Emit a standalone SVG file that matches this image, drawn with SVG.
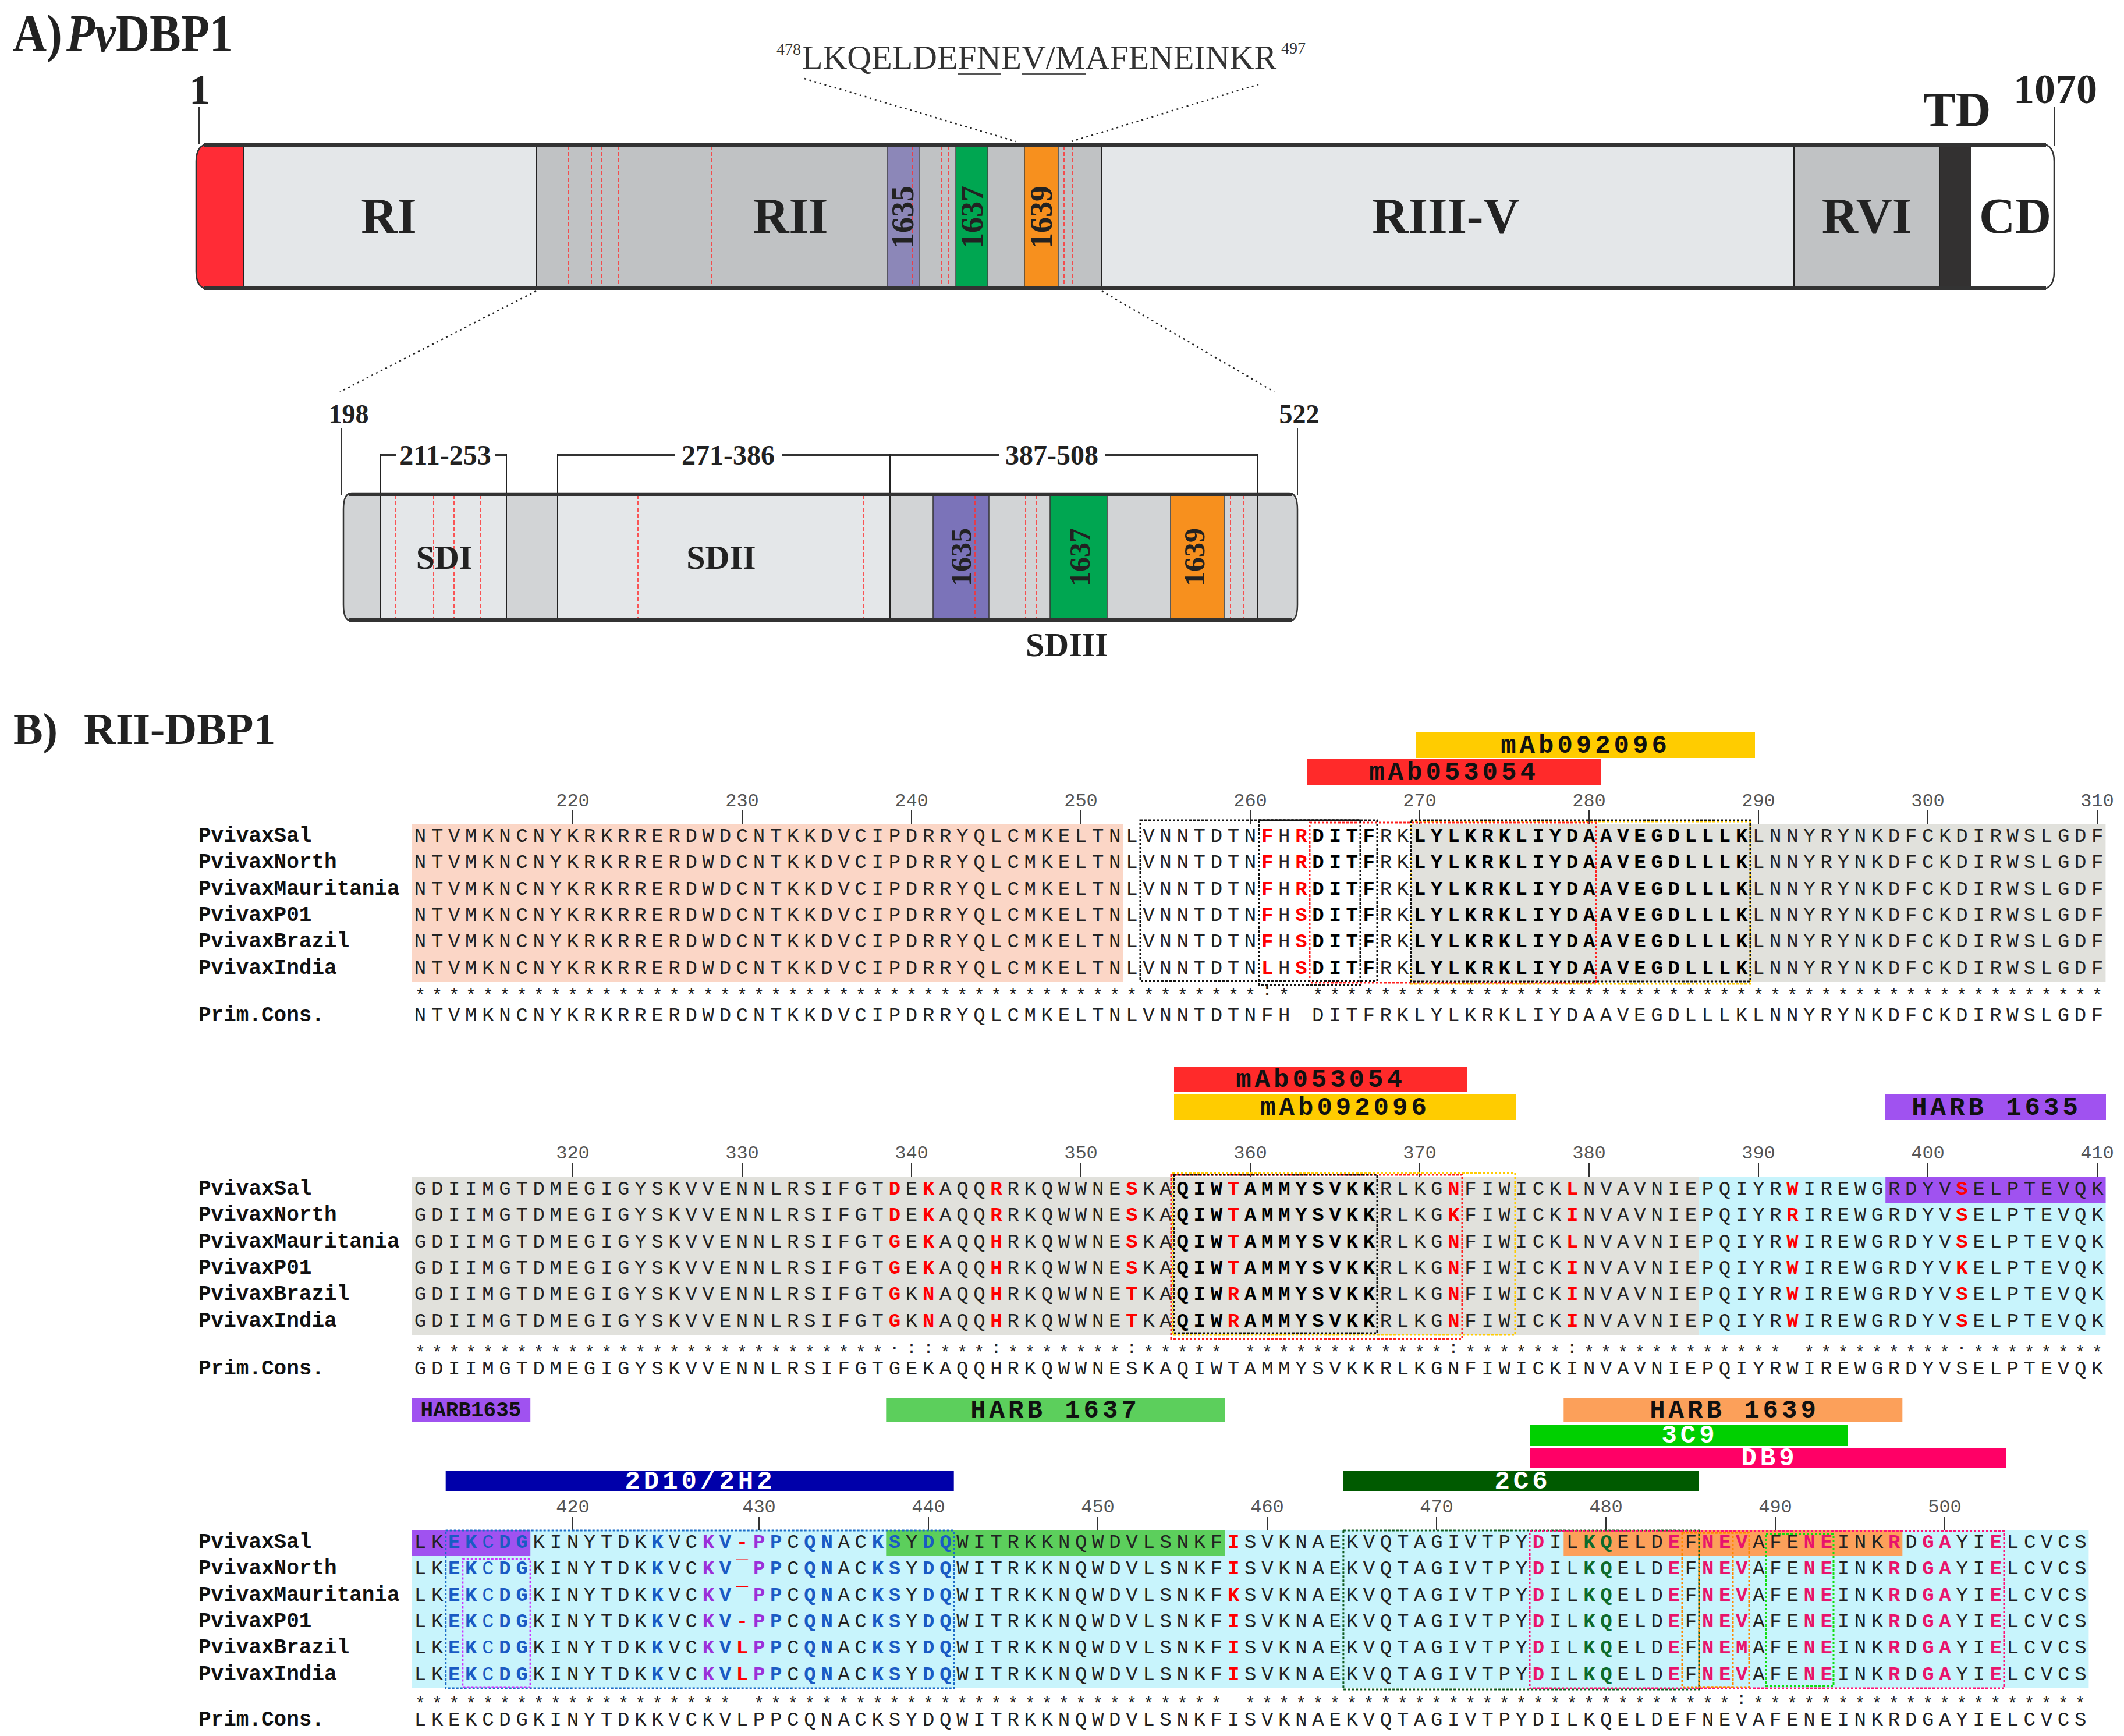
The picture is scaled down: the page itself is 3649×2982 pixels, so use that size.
<svg xmlns="http://www.w3.org/2000/svg" width="3649" height="2982" viewBox="0 0 3649 2982">
<style>
.ser{font-family:"Liberation Serif","Times New Roman",serif;font-weight:bold;fill:#222}
.pep{font-family:"Liberation Serif","Times New Roman",serif;fill:#333}
.seq{font-family:"Liberation Mono","Courier New",monospace;font-size:34px;letter-spacing:8.7px;fill:#222}
.st{font-family:"Liberation Mono","Courier New",monospace;font-size:30px;letter-spacing:11.1px;fill:#222}
.nm{font-family:"Liberation Mono","Courier New",monospace;font-size:36px;font-weight:bold;fill:#111}
.tk{font-family:"Liberation Mono","Courier New",monospace;font-size:32px;fill:#555;text-anchor:middle}
.bt{font-family:"Liberation Mono","Courier New",monospace;font-size:44px;font-weight:bold;letter-spacing:6px;text-anchor:middle;fill:#111}
.bts{font-family:"Liberation Mono","Courier New",monospace;font-size:36px;font-weight:bold;text-anchor:middle;fill:#111}
.wt{fill:#fff}
.B{font-weight:bold;fill:#000}
.R{font-weight:bold;fill:#f00}
.U{font-weight:bold;fill:#1a5bc4}
.u{fill:#1a5bc4}
.P{font-weight:bold;fill:#9b30d9}
.K{font-weight:bold;fill:#e8146c}
.G{font-weight:bold;fill:#0e6b2c}
.rd{stroke:#ff3030;stroke-width:1.6;stroke-dasharray:7 4;fill:none}
.dot{stroke:#222;stroke-width:2.5;stroke-dasharray:3 6;fill:none}
.tick{stroke:#333;stroke-width:2}
.sep{stroke:#222;stroke-width:2}
.brk{stroke:#333;stroke-width:4}
.bx{fill:none;stroke-width:3;stroke-dasharray:4 3}
.edge{fill:none;stroke:#333;stroke-width:2.5}
.thick{stroke:#333;stroke-width:6}
</style>
<defs>
<clipPath id="mainClip"><path d="M361,247 H3505 Q3529,247 3529,277 V467 Q3529,497 3505,497 H361 Q337,497 337,467 V277 Q337,247 361,247 Z"/></clipPath>
<clipPath id="subClip"><path d="M604,847 H2215 Q2229,847 2229,875 V1039 Q2229,1067 2215,1067 H604 Q590,1067 590,1039 V875 Q590,847 604,847 Z"/></clipPath>
</defs>
<rect width="3649" height="2982" fill="#fff"/>

<!-- ===== Part A ===== -->
<text class="ser" x="22" y="88" font-size="90" textLength="378" lengthAdjust="spacingAndGlyphs">A)<tspan font-style="italic" dx="8">Pv</tspan>DBP1</text>

<g id="mainBar">
<g clip-path="url(#mainClip)">
<rect x="337" y="247" width="82" height="250" fill="#ff2c36"/>
<rect x="419" y="247" width="502" height="250" fill="#e4e7e9"/>
<rect x="921" y="247" width="972" height="250" fill="#c0c2c4"/>
<rect x="1893" y="247" width="1189" height="250" fill="#e4e7e9"/>
<rect x="3082" y="247" width="250" height="250" fill="#c0c2c4"/>
<rect x="3332" y="247" width="54" height="250" fill="#333131"/>
<rect x="3386" y="247" width="143" height="250" fill="#ffffff"/>
</g>
<g id="main1635"><rect x="1524" y="250" width="55" height="244" fill="#8c87b8" stroke="#444" stroke-width="1.5"/></g>
<g id="main1637"><rect x="1642" y="250" width="55" height="244" fill="#00a651" stroke="#444" stroke-width="1.5"/></g>
<g id="main1639"><rect x="1760" y="250" width="58" height="244" fill="#f7901e" stroke="#444" stroke-width="1.5"/></g>
<g>
<line class="rd" x1="976" y1="250" x2="976" y2="494"/>
<line class="rd" x1="1016" y1="250" x2="1016" y2="494"/>
<line class="rd" x1="1034" y1="250" x2="1034" y2="494"/>
<line class="rd" x1="1062" y1="250" x2="1062" y2="494"/>
<line class="rd" x1="1222" y1="250" x2="1222" y2="494"/>
<line class="rd" x1="1567" y1="250" x2="1567" y2="494"/>
<line class="rd" x1="1618" y1="250" x2="1618" y2="494"/>
<line class="rd" x1="1630" y1="250" x2="1630" y2="494"/>
<line class="rd" x1="1828" y1="250" x2="1828" y2="494"/>
<line class="rd" x1="1842" y1="250" x2="1842" y2="494"/>
</g>
<line class="sep" x1="419" y1="247" x2="419" y2="497"/>
<line class="sep" x1="921" y1="247" x2="921" y2="497"/>
<line class="sep" x1="1893" y1="247" x2="1893" y2="497"/>
<line class="sep" x1="3082" y1="247" x2="3082" y2="497"/>
<line class="sep" x1="3332" y1="247" x2="3332" y2="497"/>
<path class="edge" d="M361,247 H3505 Q3529,247 3529,277 V467 Q3529,497 3505,497 H361 Q337,497 337,467 V277 Q337,247 361,247 Z"/>
<line class="thick" x1="350" y1="249" x2="3515" y2="249"/>
<line class="thick" x1="350" y1="495" x2="3515" y2="495"/>
<text class="ser" x="668" y="400" font-size="86" text-anchor="middle">RI</text>
<text class="ser" x="1358" y="400" font-size="86" text-anchor="middle">RII</text>
<text class="ser" x="2484" y="400" font-size="86" text-anchor="middle">RIII-V</text>
<text class="ser" x="3207" y="400" font-size="86" text-anchor="middle">RVI</text>
<text class="ser" x="3462" y="400" font-size="86" text-anchor="middle">CD</text>
<text class="ser" font-size="54" text-anchor="middle" transform="translate(1551,373) rotate(-90)" y="18">1635</text>
<text class="ser" font-size="54" text-anchor="middle" transform="translate(1670,373) rotate(-90)" y="18">1637</text>
<text class="ser" font-size="54" text-anchor="middle" transform="translate(1789,373) rotate(-90)" y="18">1639</text>
</g>
<text class="ser" x="343" y="178" font-size="72" text-anchor="middle">1</text>
<text class="ser" x="3531" y="177" font-size="72" text-anchor="middle">1070</text>
<text class="ser" x="3362" y="217" font-size="84" text-anchor="middle">TD</text>

<g id="peptide">
<text class="pep" x="1334" y="94" font-size="28">478</text>
<text class="pep" x="1378" y="118" font-size="58">LKQELDEFNEV/MAFENEINKR</text>
<text class="pep" x="2201" y="92" font-size="28">497</text>
<line x1="1645" y1="127" x2="1720" y2="127" stroke="#555" stroke-width="3"/>
<line x1="1755" y1="127" x2="1865" y2="127" stroke="#555" stroke-width="3"/>
</g>

<g id="subBar">
<g clip-path="url(#subClip)">
<rect x="590" y="847" width="64" height="220" fill="#d2d4d6"/>
<rect x="654" y="847" width="216" height="220" fill="#e4e7e9"/>
<rect x="870" y="847" width="88" height="220" fill="#d2d4d6"/>
<rect x="958" y="847" width="571" height="220" fill="#e4e7e9"/>
<rect x="1529" y="847" width="700" height="220" fill="#d2d4d6"/>
</g>
<g id="sub1635"><rect x="1603" y="850" width="96" height="214" fill="#7b73b9" stroke="#333" stroke-width="1.5"/></g>
<g id="sub1637"><rect x="1804" y="850" width="98" height="214" fill="#00a651" stroke="#333" stroke-width="1.5"/></g>
<g id="sub1639"><rect x="2011" y="850" width="92" height="214" fill="#f7901e" stroke="#333" stroke-width="1.5"/></g>
<g>
<line class="rd" x1="679" y1="850" x2="679" y2="1064"/>
<line class="rd" x1="745" y1="850" x2="745" y2="1064"/>
<line class="rd" x1="780" y1="850" x2="780" y2="1064"/>
<line class="rd" x1="826" y1="850" x2="826" y2="1064"/>
<line class="rd" x1="1096" y1="850" x2="1096" y2="1064"/>
<line class="rd" x1="1483" y1="850" x2="1483" y2="1064"/>
<line class="rd" x1="1675" y1="850" x2="1675" y2="1064"/>
<line class="rd" x1="1762" y1="850" x2="1762" y2="1064"/>
<line class="rd" x1="1781" y1="850" x2="1781" y2="1064"/>
<line class="rd" x1="2114" y1="850" x2="2114" y2="1064"/>
<line class="rd" x1="2137" y1="850" x2="2137" y2="1064"/>
</g>
<line class="sep" x1="654" y1="847" x2="654" y2="1067"/>
<line class="sep" x1="870" y1="847" x2="870" y2="1067"/>
<line class="sep" x1="958" y1="847" x2="958" y2="1067"/>
<line class="sep" x1="1529" y1="847" x2="1529" y2="1067"/>
<line class="sep" x1="2160" y1="847" x2="2160" y2="1067"/>
<path class="edge" d="M604,847 H2215 Q2229,847 2229,875 V1039 Q2229,1067 2215,1067 H604 Q590,1067 590,1039 V875 Q590,847 604,847 Z"/>
<line class="thick" x1="600" y1="849" x2="2220" y2="849"/>
<line class="thick" x1="600" y1="1065" x2="2220" y2="1065"/>
<text class="ser" x="763" y="977" font-size="58" text-anchor="middle">SDI</text>
<text class="ser" x="1239" y="977" font-size="58" text-anchor="middle">SDII</text>
<text class="ser" font-size="50" text-anchor="middle" transform="translate(1651,957) rotate(-90)" y="17">1635</text>
<text class="ser" font-size="50" text-anchor="middle" transform="translate(1855,957) rotate(-90)" y="17">1637</text>
<text class="ser" font-size="50" text-anchor="middle" transform="translate(2052,957) rotate(-90)" y="17">1639</text>
</g>
<text class="ser" x="1833" y="1127" font-size="58" text-anchor="middle">SDIII</text>
<text class="ser" x="599" y="727" font-size="46" text-anchor="middle">198</text>
<text class="ser" x="2232" y="727" font-size="46" text-anchor="middle">522</text>
<text class="ser" x="765" y="798" font-size="48" text-anchor="middle">211-253</text>
<text class="ser" x="1251" y="798" font-size="48" text-anchor="middle">271-386</text>
<text class="ser" x="1807" y="798" font-size="48" text-anchor="middle">387-508</text>

<g id="connectors">
<line class="dot" x1="1382" y1="135" x2="1745" y2="243"/>
<line class="dot" x1="2162" y1="145" x2="1841" y2="243"/>
<line class="dot" x1="921" y1="500" x2="584" y2="673"/>
<line class="dot" x1="1893" y1="500" x2="2189" y2="673"/>
<line stroke="#333" stroke-width="2" x1="342" y1="184" x2="342" y2="247"/>
<line stroke="#333" stroke-width="2" x1="3529" y1="183" x2="3529" y2="250"/>
<line stroke="#333" stroke-width="2" x1="587" y1="735" x2="587" y2="850"/>
<line stroke="#333" stroke-width="2" x1="2229" y1="735" x2="2229" y2="850"/>
<line class="brk" x1="654" y1="782" x2="680" y2="782"/>
<line class="brk" x1="850" y1="782" x2="870" y2="782"/>
<line class="brk" x1="958" y1="782" x2="1160" y2="782"/>
<line class="brk" x1="1343" y1="782" x2="1529" y2="782"/>
<line class="brk" x1="1529" y1="782" x2="1716" y2="782"/>
<line class="brk" x1="1898" y1="782" x2="2160" y2="782"/>
<line class="sep" x1="654" y1="780" x2="654" y2="847"/>
<line class="sep" x1="870" y1="780" x2="870" y2="847"/>
<line class="sep" x1="958" y1="780" x2="958" y2="847"/>
<line class="sep" x1="1529" y1="780" x2="1529" y2="847"/>
<line class="sep" x1="2160" y1="780" x2="2160" y2="847"/>
</g>

<!-- ===== Part B ===== -->
<text class="ser" x="23" y="1278" font-size="76">B)</text>
<text class="ser" x="144" y="1278" font-size="76">RII-DBP1</text>

<!-- Block 1 -->
<g id="block1">
<rect x="707.5" y="1415" width="1222.2" height="272" fill="#fbd6c6"/>
<rect x="2424.4" y="1415" width="1193" height="272" fill="#e1e1dc"/>
<g id="b1-mAb092096"><rect x="2433" y="1257" width="582" height="45" fill="#ffcc00"/><text class="bt" x="2724" y="1293">mAb092096</text></g>
<g id="b1-mAb053054"><rect x="2246" y="1304" width="504" height="44" fill="#ff2a2a"/><text class="bt" x="2498" y="1339">mAb053054</text></g>
<g class="tk">
<text x="984" y="1385">220</text><text x="1275" y="1385">230</text><text x="1566" y="1385">240</text><text x="1857" y="1385">250</text><text x="2148" y="1385">260</text><text x="2439" y="1385">270</text><text x="2730" y="1385">280</text><text x="3021" y="1385">290</text><text x="3312" y="1385">300</text><text x="3603" y="1385">310</text>
</g>
<g class="tick">
<line x1="984" y1="1392" x2="984" y2="1415"/><line x1="1275" y1="1392" x2="1275" y2="1415"/><line x1="1566" y1="1392" x2="1566" y2="1415"/><line x1="1857" y1="1392" x2="1857" y2="1415"/><line x1="2148" y1="1392" x2="2148" y2="1415"/><line x1="2439" y1="1392" x2="2439" y2="1415"/><line x1="2730" y1="1392" x2="2730" y2="1415"/><line x1="3021" y1="1392" x2="3021" y2="1415"/><line x1="3312" y1="1392" x2="3312" y2="1415"/><line x1="3603" y1="1392" x2="3603" y2="1415"/>
</g>
<text class="nm" x="341" y="1446">PvivaxSal</text>
<text class="nm" x="341" y="1491.3">PvivaxNorth</text>
<text class="nm" x="341" y="1536.6">PvivaxMauritania</text>
<text class="nm" x="341" y="1581.9">PvivaxP01</text>
<text class="nm" x="341" y="1627.2">PvivaxBrazil</text>
<text class="nm" x="341" y="1672.5">PvivaxIndia</text>
<text class="nm" x="341" y="1754">Prim.Cons.</text>
<text class="seq" x="711.8" y="1446">NTVMKNCNYKRKRRERDWDCNTKKDVCIPDRRYQLCMKELTNLVNNTDTN<tspan class="R">F</tspan>H<tspan class="R">R</tspan><tspan class="B">DITF</tspan>RK<tspan class="B">LYLKRKLIYDAAVEGDLLLK</tspan>LNNYRYNKDFCKDIRWSLGDF</text>
<text class="seq" x="711.8" y="1491.3">NTVMKNCNYKRKRRERDWDCNTKKDVCIPDRRYQLCMKELTNLVNNTDTN<tspan class="R">F</tspan>H<tspan class="R">R</tspan><tspan class="B">DITF</tspan>RK<tspan class="B">LYLKRKLIYDAAVEGDLLLK</tspan>LNNYRYNKDFCKDIRWSLGDF</text>
<text class="seq" x="711.8" y="1536.6">NTVMKNCNYKRKRRERDWDCNTKKDVCIPDRRYQLCMKELTNLVNNTDTN<tspan class="R">F</tspan>H<tspan class="R">R</tspan><tspan class="B">DITF</tspan>RK<tspan class="B">LYLKRKLIYDAAVEGDLLLK</tspan>LNNYRYNKDFCKDIRWSLGDF</text>
<text class="seq" x="711.8" y="1581.9">NTVMKNCNYKRKRRERDWDCNTKKDVCIPDRRYQLCMKELTNLVNNTDTN<tspan class="R">F</tspan>H<tspan class="R">S</tspan><tspan class="B">DITF</tspan>RK<tspan class="B">LYLKRKLIYDAAVEGDLLLK</tspan>LNNYRYNKDFCKDIRWSLGDF</text>
<text class="seq" x="711.8" y="1627.2">NTVMKNCNYKRKRRERDWDCNTKKDVCIPDRRYQLCMKELTNLVNNTDTN<tspan class="R">F</tspan>H<tspan class="R">S</tspan><tspan class="B">DITF</tspan>RK<tspan class="B">LYLKRKLIYDAAVEGDLLLK</tspan>LNNYRYNKDFCKDIRWSLGDF</text>
<text class="seq" x="711.8" y="1672.5">NTVMKNCNYKRKRRERDWDCNTKKDVCIPDRRYQLCMKELTNLVNNTDTN<tspan class="R">L</tspan>H<tspan class="R">S</tspan><tspan class="B">DITF</tspan>RK<tspan class="B">LYLKRKLIYDAAVEGDLLLK</tspan>LNNYRYNKDFCKDIRWSLGDF</text>
<text class="st" y="1719"><tspan x="713">**************************************************</tspan><tspan x="2168.0" y="1710">:</tspan><tspan x="2197.1" y="1719">*</tspan><tspan x="2255.3">***********************************************</tspan></text>
<text class="seq" y="1754"><tspan x="711.8">NTVMKNCNYKRKRRERDWDCNTKKDVCIPDRRYQLCMKELTNLVNNTDTNFH</tspan><tspan x="2254.1">DITFRKLYLKRKLIYDAAVEGDLLLKLNNYRYNKDFCKDIRWSLGDF</tspan></text>
<rect class="bx" stroke="#ffcc00" x="2424" y="1411" width="583" height="279"/>
<rect class="bx" stroke="#ff2020" x="2250" y="1413" width="492" height="275"/>
<rect class="bx" stroke="#111" x="1959" y="1409" width="407" height="276"/>
<rect class="bx" stroke="#111" x="2163" y="1409" width="174" height="283" stroke-dasharray="8 3"/>
<line x1="2163" y1="1409" x2="2337" y2="1409" stroke="#111" stroke-width="3"/>
<rect class="bx" stroke="#111" x="2424" y="1409" width="583" height="277" stroke-width="3.5"/>
</g>

<!-- Block 2 -->
<g id="block2">
<rect x="707.5" y="2021" width="2211.6" height="272" fill="#e1e1dc"/>
<rect x="2919.1" y="2021" width="698.4" height="272" fill="#c8f4fc"/>
<rect x="3239.2" y="2021" width="378.3" height="45" fill="#a052f0"/>
<g id="b2-mAb053054"><rect x="2017" y="1832" width="503" height="44" fill="#ff2a2a"/><text class="bt" x="2269" y="1867">mAb053054</text></g>
<g id="b2-mAb092096"><rect x="2017" y="1880" width="588" height="44" fill="#ffcc00"/><text class="bt" x="2311" y="1915">mAb092096</text></g>
<g id="b2-HARB1635"><rect x="3239" y="1880" width="379" height="44" fill="#a052f0"/><text class="bt" x="3430" y="1915">HARB 1635</text></g>
<g class="tk">
<text x="984" y="1990">320</text><text x="1275" y="1990">330</text><text x="1566" y="1990">340</text><text x="1857" y="1990">350</text><text x="2148" y="1990">360</text><text x="2439" y="1990">370</text><text x="2730" y="1990">380</text><text x="3021" y="1990">390</text><text x="3312" y="1990">400</text><text x="3603" y="1990">410</text>
</g>
<g class="tick">
<line x1="984" y1="1997" x2="984" y2="2021"/><line x1="1275" y1="1997" x2="1275" y2="2021"/><line x1="1566" y1="1997" x2="1566" y2="2021"/><line x1="1857" y1="1997" x2="1857" y2="2021"/><line x1="2148" y1="1997" x2="2148" y2="2021"/><line x1="2439" y1="1997" x2="2439" y2="2021"/><line x1="2730" y1="1997" x2="2730" y2="2021"/><line x1="3021" y1="1997" x2="3021" y2="2021"/><line x1="3312" y1="1997" x2="3312" y2="2021"/><line x1="3603" y1="1997" x2="3603" y2="2021"/>
</g>
<text class="nm" x="341" y="2052">PvivaxSal</text>
<text class="nm" x="341" y="2097.3">PvivaxNorth</text>
<text class="nm" x="341" y="2142.6">PvivaxMauritania</text>
<text class="nm" x="341" y="2187.9">PvivaxP01</text>
<text class="nm" x="341" y="2233.2">PvivaxBrazil</text>
<text class="nm" x="341" y="2278.5">PvivaxIndia</text>
<text class="nm" x="341" y="2361">Prim.Cons.</text>
<text class="seq" x="711.8" y="2052">GDIIMGTDMEGIGYSKVVENNLRSIFGT<tspan class="R">D</tspan>E<tspan class="R">K</tspan>AQQ<tspan class="R">R</tspan>RKQWWNE<tspan class="R">S</tspan>KA<tspan class="B">QIW</tspan><tspan class="R">T</tspan><tspan class="B">AMMYSVKK</tspan>RLKG<tspan class="R">N</tspan>FIWICK<tspan class="R">L</tspan>NVAVNIEPQIYR<tspan class="R">W</tspan>IREWGRDYV<tspan class="R">S</tspan>ELPTEVQK</text>
<text class="seq" x="711.8" y="2097.3">GDIIMGTDMEGIGYSKVVENNLRSIFGT<tspan class="R">D</tspan>E<tspan class="R">K</tspan>AQQ<tspan class="R">R</tspan>RKQWWNE<tspan class="R">S</tspan>KA<tspan class="B">QIW</tspan><tspan class="R">T</tspan><tspan class="B">AMMYSVKK</tspan>RLKG<tspan class="R">K</tspan>FIWICK<tspan class="R">I</tspan>NVAVNIEPQIYR<tspan class="R">R</tspan>IREWGRDYV<tspan class="R">S</tspan>ELPTEVQK</text>
<text class="seq" x="711.8" y="2142.6">GDIIMGTDMEGIGYSKVVENNLRSIFGT<tspan class="R">G</tspan>E<tspan class="R">K</tspan>AQQ<tspan class="R">H</tspan>RKQWWNE<tspan class="R">S</tspan>KA<tspan class="B">QIW</tspan><tspan class="R">T</tspan><tspan class="B">AMMYSVKK</tspan>RLKG<tspan class="R">N</tspan>FIWICK<tspan class="R">L</tspan>NVAVNIEPQIYR<tspan class="R">W</tspan>IREWGRDYV<tspan class="R">S</tspan>ELPTEVQK</text>
<text class="seq" x="711.8" y="2187.9">GDIIMGTDMEGIGYSKVVENNLRSIFGT<tspan class="R">G</tspan>E<tspan class="R">K</tspan>AQQ<tspan class="R">H</tspan>RKQWWNE<tspan class="R">S</tspan>KA<tspan class="B">QIW</tspan><tspan class="R">T</tspan><tspan class="B">AMMYSVKK</tspan>RLKG<tspan class="R">N</tspan>FIWICK<tspan class="R">I</tspan>NVAVNIEPQIYR<tspan class="R">W</tspan>IREWGRDYV<tspan class="R">K</tspan>ELPTEVQK</text>
<text class="seq" x="711.8" y="2233.2">GDIIMGTDMEGIGYSKVVENNLRSIFGT<tspan class="R">G</tspan>K<tspan class="R">N</tspan>AQQ<tspan class="R">H</tspan>RKQWWNE<tspan class="R">T</tspan>KA<tspan class="B">QIW</tspan><tspan class="R">R</tspan><tspan class="B">AMMYSVKK</tspan>RLKG<tspan class="R">N</tspan>FIWICK<tspan class="R">I</tspan>NVAVNIEPQIYR<tspan class="R">W</tspan>IREWGRDYV<tspan class="R">S</tspan>ELPTEVQK</text>
<text class="seq" x="711.8" y="2278.5">GDIIMGTDMEGIGYSKVVENNLRSIFGT<tspan class="R">G</tspan>K<tspan class="R">N</tspan>AQQ<tspan class="R">H</tspan>RKQWWNE<tspan class="R">T</tspan>KA<tspan class="B">QIW</tspan><tspan class="R">R</tspan><tspan class="B">AMMYSVKK</tspan>RLKG<tspan class="R">N</tspan>FIWICK<tspan class="R">I</tspan>NVAVNIEPQIYR<tspan class="R">W</tspan>IREWGRDYV<tspan class="R">S</tspan>ELPTEVQK</text>
<text class="st" y="2333"><tspan x="713">****************************</tspan><tspan x="1527.8" y="2318">.</tspan><tspan x="1556.9" y="2324">::</tspan><tspan x="1615.1" y="2333">***</tspan><tspan x="1702.4" y="2324">:</tspan><tspan x="1731.5" y="2333">*******</tspan><tspan x="1935.2" y="2324">:</tspan><tspan x="1964.3" y="2333">*****</tspan><tspan x="2138.9">************</tspan><tspan x="2488.1" y="2324">:</tspan><tspan x="2517.2" y="2333">******</tspan><tspan x="2691.8" y="2324">:</tspan><tspan x="2720.9" y="2333">************</tspan><tspan x="3099.2">*********</tspan><tspan x="3361.1" y="2318">.</tspan><tspan x="3390.2" y="2333">********</tspan></text>
<text class="seq" x="711.8" y="2361">GDIIMGTDMEGIGYSKVVENNLRSIFGTGEKAQQHRKQWWNESKAQIWTAMMYSVKKRLKGNFIWICKINVAVNIEPQIYRWIREWGRDYVSELPTEVQK</text>
<rect class="bx" stroke="#ffcc00" x="2015" y="2015" width="588" height="278"/>
<rect class="bx" stroke="#ff2020" x="2012" y="2018" width="500" height="282"/>
<rect class="bx" stroke="#111" x="2017" y="2018" width="349" height="272" stroke-width="3.5"/>
</g>

<!-- Block 3 -->
<g id="block3">
<rect x="707.5" y="2628" width="2880.9" height="272" fill="#c8f4fc"/>
<rect x="707.5" y="2628" width="203.7" height="45" fill="#a052f0"/>
<rect x="1522.3" y="2628" width="582" height="45" fill="#5ccf5c"/>
<rect x="2686.3" y="2628" width="582" height="45" fill="#fca05a"/>
<g id="b3-HARB1635"><rect x="707.5" y="2402" width="203.7" height="40" fill="#a052f0"/><text class="bts" x="809" y="2433">HARB1635</text></g>
<g id="b3-HARB1637"><rect x="1522.3" y="2402" width="582" height="40" fill="#5ccf5c"/><text class="bt" x="1813" y="2435">HARB 1637</text></g>
<g id="b3-HARB1639"><rect x="2686.3" y="2402" width="582" height="40" fill="#fca05a"/><text class="bt" x="2980" y="2435">HARB 1639</text></g>
<g id="b3-3C9"><rect x="2628" y="2447" width="547" height="37" fill="#00d000"/><text class="bt wt" x="2903" y="2478">3C9</text></g>
<g id="b3-DB9"><rect x="2628" y="2487" width="819" height="35" fill="#ff0066"/><text class="bt wt" x="3040" y="2517">DB9</text></g>
<g id="b3-2C6"><rect x="2308" y="2526" width="611" height="36" fill="#005a00"/><text class="bt wt" x="2616" y="2557">2C6</text></g>
<g id="b3-2D10"><rect x="765.7" y="2526" width="873" height="36" fill="#0000aa"/><text class="bt wt" x="1203" y="2557">2D10/2H2</text></g>
<g class="tk">
<text x="984" y="2598">420</text><text x="1304" y="2598">430</text><text x="1595" y="2598">440</text><text x="1886" y="2598">450</text><text x="2177" y="2598">460</text><text x="2468" y="2598">470</text><text x="2759" y="2598">480</text><text x="3050" y="2598">490</text><text x="3341" y="2598">500</text>
</g>
<g class="tick">
<line x1="984" y1="2605" x2="984" y2="2628"/><line x1="1304" y1="2605" x2="1304" y2="2628"/><line x1="1595" y1="2605" x2="1595" y2="2628"/><line x1="1886" y1="2605" x2="1886" y2="2628"/><line x1="2177" y1="2605" x2="2177" y2="2628"/><line x1="2468" y1="2605" x2="2468" y2="2628"/><line x1="2759" y1="2605" x2="2759" y2="2628"/><line x1="3050" y1="2605" x2="3050" y2="2628"/><line x1="3341" y1="2605" x2="3341" y2="2628"/>
</g>
<text class="nm" x="341" y="2659">PvivaxSal</text>
<text class="nm" x="341" y="2704.3">PvivaxNorth</text>
<text class="nm" x="341" y="2749.6">PvivaxMauritania</text>
<text class="nm" x="341" y="2794.9">PvivaxP01</text>
<text class="nm" x="341" y="2840.2">PvivaxBrazil</text>
<text class="nm" x="341" y="2885.5">PvivaxIndia</text>
<text class="nm" x="341" y="2964">Prim.Cons.</text>
<text class="seq" x="711.8" y="2659">LK<tspan class="U">EK</tspan><tspan class="u">C</tspan><tspan class="U">DG</tspan>KINYTDK<tspan class="U">K</tspan>VC<tspan class="P">K</tspan><tspan class="U">V</tspan><tspan class="R">-</tspan><tspan class="P">P</tspan><tspan class="U">P</tspan>C<tspan class="U">QN</tspan>AC<tspan class="U">KS</tspan>Y<tspan class="U">DQ</tspan>WITRKKNQWDVLSNKF<tspan class="R">I</tspan>SVKNAEKVQTAGIVTPY<tspan class="K">D</tspan>IL<tspan class="G">KQ</tspan>ELD<tspan class="K">E</tspan>F<tspan class="K">NEV</tspan>AFE<tspan class="K">NE</tspan>INK<tspan class="K">R</tspan>D<tspan class="K">GA</tspan>YI<tspan class="K">E</tspan>LCVCS</text>
<text class="seq" x="711.8" y="2704.3">LK<tspan class="U">EK</tspan><tspan class="u">C</tspan><tspan class="U">DG</tspan>KINYTDK<tspan class="U">K</tspan>VC<tspan class="P">K</tspan><tspan class="U">V</tspan><tspan class="R">¯</tspan><tspan class="P">P</tspan><tspan class="U">P</tspan>C<tspan class="U">QN</tspan>AC<tspan class="U">KS</tspan>Y<tspan class="U">DQ</tspan>WITRKKNQWDVLSNKF<tspan class="R">I</tspan>SVKNAEKVQTAGIVTPY<tspan class="K">D</tspan>IL<tspan class="G">KQ</tspan>ELD<tspan class="K">E</tspan>F<tspan class="K">NEV</tspan>AFE<tspan class="K">NE</tspan>INK<tspan class="K">R</tspan>D<tspan class="K">GA</tspan>YI<tspan class="K">E</tspan>LCVCS</text>
<text class="seq" x="711.8" y="2749.6">LK<tspan class="U">EK</tspan><tspan class="u">C</tspan><tspan class="U">DG</tspan>KINYTDK<tspan class="U">K</tspan>VC<tspan class="P">K</tspan><tspan class="U">V</tspan><tspan class="R">¯</tspan><tspan class="P">P</tspan><tspan class="U">P</tspan>C<tspan class="U">QN</tspan>AC<tspan class="U">KS</tspan>Y<tspan class="U">DQ</tspan>WITRKKNQWDVLSNKF<tspan class="R">K</tspan>SVKNAEKVQTAGIVTPY<tspan class="K">D</tspan>IL<tspan class="G">KQ</tspan>ELD<tspan class="K">E</tspan>F<tspan class="K">NEV</tspan>AFE<tspan class="K">NE</tspan>INK<tspan class="K">R</tspan>D<tspan class="K">GA</tspan>YI<tspan class="K">E</tspan>LCVCS</text>
<text class="seq" x="711.8" y="2794.9">LK<tspan class="U">EK</tspan><tspan class="u">C</tspan><tspan class="U">DG</tspan>KINYTDK<tspan class="U">K</tspan>VC<tspan class="P">K</tspan><tspan class="U">V</tspan><tspan class="R">-</tspan><tspan class="P">P</tspan><tspan class="U">P</tspan>C<tspan class="U">QN</tspan>AC<tspan class="U">KS</tspan>Y<tspan class="U">DQ</tspan>WITRKKNQWDVLSNKF<tspan class="R">I</tspan>SVKNAEKVQTAGIVTPY<tspan class="K">D</tspan>IL<tspan class="G">KQ</tspan>ELD<tspan class="K">E</tspan>F<tspan class="K">NEV</tspan>AFE<tspan class="K">NE</tspan>INK<tspan class="K">R</tspan>D<tspan class="K">GA</tspan>YI<tspan class="K">E</tspan>LCVCS</text>
<text class="seq" x="711.8" y="2840.2">LK<tspan class="U">EK</tspan><tspan class="u">C</tspan><tspan class="U">DG</tspan>KINYTDK<tspan class="U">K</tspan>VC<tspan class="P">K</tspan><tspan class="U">V</tspan><tspan class="R">L</tspan><tspan class="P">P</tspan><tspan class="U">P</tspan>C<tspan class="U">QN</tspan>AC<tspan class="U">KS</tspan>Y<tspan class="U">DQ</tspan>WITRKKNQWDVLSNKF<tspan class="R">I</tspan>SVKNAEKVQTAGIVTPY<tspan class="K">D</tspan>IL<tspan class="G">KQ</tspan>ELD<tspan class="K">E</tspan>F<tspan class="K">NEM</tspan>AFE<tspan class="K">NE</tspan>INK<tspan class="K">R</tspan>D<tspan class="K">GA</tspan>YI<tspan class="K">E</tspan>LCVCS</text>
<text class="seq" x="711.8" y="2885.5">LK<tspan class="U">EK</tspan><tspan class="u">C</tspan><tspan class="U">DG</tspan>KINYTDK<tspan class="U">K</tspan>VC<tspan class="P">K</tspan><tspan class="U">V</tspan><tspan class="R">L</tspan><tspan class="P">P</tspan><tspan class="U">P</tspan>C<tspan class="U">QN</tspan>AC<tspan class="U">KS</tspan>Y<tspan class="U">DQ</tspan>WITRKKNQWDVLSNKF<tspan class="R">I</tspan>SVKNAEKVQTAGIVTPY<tspan class="K">D</tspan>IL<tspan class="G">KQ</tspan>ELD<tspan class="K">E</tspan>F<tspan class="K">NEV</tspan>AFE<tspan class="K">NE</tspan>INK<tspan class="K">R</tspan>D<tspan class="K">GA</tspan>YI<tspan class="K">E</tspan>LCVCS</text>
<text class="st" y="2936"><tspan x="713">*******************</tspan><tspan x="1295.0">****************************</tspan><tspan x="2138.9">*****************************</tspan><tspan x="2982.8" y="2927">:</tspan><tspan x="3011.9" y="2936">********************</tspan></text>
<text class="seq" x="711.8" y="2964">LKEKCDGKINYTDKKVCKVLPPCQNACKSYDQWITRKKNQWDVLSNKFISVKNAEKVQTAGIVTPYDILKQELDEFNEVAFENEINKRDGAYIELCVCS</text>
<rect class="bx" stroke="#1a6cc8" x="765.7" y="2629" width="873" height="271" stroke-dasharray="6 3"/>
<rect class="bx" stroke="#cc33ff" x="794.8" y="2678" width="116.3" height="220" stroke-dasharray="3 4"/>
<rect class="bx" stroke="#0e5a1e" x="2307.9" y="2629" width="611.1" height="273"/>
<rect class="bx" stroke="#ff1177" x="2628" y="2630" width="815" height="270" stroke-dasharray="6 3"/>
<rect class="bx" stroke="#ff8800" x="2890" y="2633" width="115" height="265" stroke-dasharray="4 4"/>
<rect class="bx" stroke="#ff8800" x="2919" y="2633" width="58" height="265" stroke-dasharray="4 4"/>
<rect class="bx" stroke="#11dd11" x="3034" y="2635" width="116" height="261" stroke-dasharray="4 4"/>
</g>
</svg>
